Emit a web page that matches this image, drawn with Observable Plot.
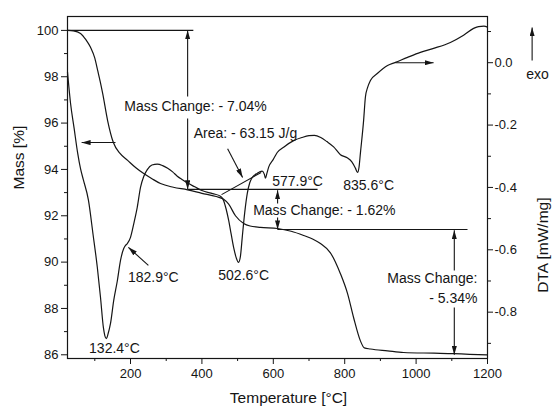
<!DOCTYPE html>
<html><head><meta charset="utf-8">
<script src="https://cdn.jsdelivr.net/npm/d3@7"></script>
<script src="https://cdn.jsdelivr.net/npm/@observablehq/plot@0.6"></script>
<style>body{margin:0;background:#fff} svg{display:block}</style>
</head><body><div id="chart"></div>
<script>
// ---- TG (mass) curve ----
const tgTemp = [23.5, 40, 60, 75, 88, 100, 108, 115, 122, 136, 152, 170, 192, 215, 236, 260, 284, 320, 360, 400, 440, 460, 475, 494, 517, 535, 564, 612, 650, 685, 710, 732, 760, 788, 808, 825, 844, 855, 872, 920, 965, 1050, 1105, 1150, 1200];
const tgMass = [100, 99.98, 99.87, 99.6, 99.27, 98.8, 98.27, 97.8, 97.28, 96.1, 95.16, 94.7, 94.39, 94.07, 93.83, 93.6, 93.39, 93.23, 93.12, 92.97, 92.83, 92.72, 92.5, 92.0, 91.67, 91.56, 91.5, 91.45, 91.33, 91.15, 91.0, 90.8, 90.4, 89.5, 88.64, 87.6, 86.6, 86.3, 86.25, 86.17, 86.1, 86.07, 86.05, 86.02, 86.0];

// ---- DTA curve ----
const dtaTemp = [23.5, 32, 42, 52, 60, 68, 82, 95, 107, 116, 124, 128, 132.4, 137, 144, 153, 163, 172, 181, 186, 191, 200, 210, 219, 228, 237, 247, 260, 275, 290, 303, 318, 331, 345, 360, 380, 400, 430, 452, 460, 468, 475, 482, 489, 496, 502.6, 508, 513, 520, 527, 534, 541, 548, 555, 562, 569, 575, 578, 582, 587, 600, 611, 630, 657, 680, 700, 715, 733, 750, 769, 788, 807, 820, 830, 836, 840, 844, 853, 858, 864, 872, 892, 920, 942, 976, 1012, 1049, 1096, 1133, 1161, 1175, 1190, 1200];
const dtaValue = [-0.03, -0.13, -0.21, -0.29, -0.34, -0.376, -0.44, -0.55, -0.656, -0.753, -0.849, -0.875, -0.885, -0.87, -0.836, -0.762, -0.70, -0.634, -0.596, -0.586, -0.58, -0.56, -0.512, -0.463, -0.40, -0.365, -0.343, -0.328, -0.325, -0.33, -0.338, -0.35, -0.364, -0.375, -0.386, -0.398, -0.41, -0.42, -0.428, -0.44, -0.47, -0.506, -0.55, -0.593, -0.625, -0.64, -0.62, -0.56, -0.48, -0.42, -0.385, -0.368, -0.36, -0.355, -0.35, -0.348, -0.358, -0.37, -0.355, -0.335, -0.31, -0.288, -0.27, -0.25, -0.24, -0.234, -0.233, -0.24, -0.253, -0.27, -0.295, -0.305, -0.318, -0.338, -0.352, -0.336, -0.29, -0.185, -0.11, -0.08, -0.057, -0.034, -0.009, 0.001, 0.017, 0.033, 0.046, 0.065, 0.088, 0.11, 0.116, 0.117, 0.114];

// ---- axes ----
const tempTicks = [200, 400, 600, 800, 1000, 1200];
const tempMinorTicks = [100, 300, 500, 700, 900, 1100];
const massTicks = [86, 88, 90, 92, 94, 96, 98, 100];
const massMinorTicks = [87, 89, 91, 93, 95, 97, 99];
const dtaTicks = [0.0, -0.2, -0.4, -0.6, -0.8];
const dtaTickLabels = ["0.0", "-0.2", "-0.4", "-0.6", "-0.8"];
const dtaMinorTicks = [0.1, -0.1, -0.3, -0.5, -0.7, -0.9];

// ---- mass-change annotations (mass units) ----
const refLineX1 = [23.5, 360, 612];
const refLineX2 = [376, 724, 1144];
const refLineY = [100, 93.14, 91.41];
const massArrowX1 = [360, 360, 612, 612, 1107, 1107, 158];
const massArrowY1 = [97.15, 96.2, 92.53, 91.93, 89.64, 88.04, 95.16];
const massArrowX2 = [360, 360, 612, 612, 1107, 1107, 63];
const massArrowY2 = [100, 93.14, 93.1, 91.41, 91.37, 86.0, 95.16];
const massLabelText = ["Mass Change: - 7.04%", "Mass Change: - 1.62%", "Mass Change:", "- 5.34%"];
const massLabelX = [382, 743, 1172, 1172];
const massLabelY = [96.72, 92.23, 89.29, 88.43];
const massLabelAnchor = ["middle", "middle", "end", "end"];

// ---- DTA annotations (DTA units) ----
const dtaArrowX1 = [942, 1325, 472, 250];
const dtaArrowY1 = [0.0, 0.007, -0.276, -0.650];
const dtaArrowX2 = [1049, 1325, 514, 194];
const dtaArrowY2 = [0.0, 0.113, -0.368, -0.592];
const baselineX = [455, 566];
const baselineY = [-0.423, -0.352];
const dtaLabelText = ["132.4°C", "182.9°C", "502.6°C", "577.9°C", "835.6°C", "Area: - 63.15 J/g", "exo"];
const dtaLabelX = [155, 264, 517, 668, 867, 522, 1340];
const dtaLabelY = [-0.917, -0.689, -0.682, -0.381, -0.394, -0.227, -0.038];

// DTA values are drawn on the mass scale through this linear mapping
const toMass = d => 98.606 + 13.458 * d;

const tg = tgTemp.map((t, i) => ({t, v: tgMass[i]}));
const dta = dtaTemp.map((t, i) => ({t, v: toMass(dtaValue[i])}));
const refLines = refLineY.map((y, i) => ({x1: refLineX1[i], x2: refLineX2[i], y}));
const arrows = [
  ...massArrowX1.map((x, i) => ({x1: x, y1: massArrowY1[i], x2: massArrowX2[i], y2: massArrowY2[i]})),
  ...dtaArrowX1.map((x, i) => ({x1: x, y1: toMass(dtaArrowY1[i]), x2: dtaArrowX2[i], y2: toMass(dtaArrowY2[i])}))
];
const baseline = [{x1: baselineX[0], y1: toMass(baselineY[0]), x2: baselineX[1], y2: toMass(baselineY[1])}];
const massLabels = massLabelText.map((s, i) => ({s, x: massLabelX[i], y: massLabelY[i], a: massLabelAnchor[i]}));
const dtaLabels = dtaLabelText.map((s, i) => ({s, x: dtaLabelX[i], y: toMass(dtaLabelY[i])}));

const INK = "#151515";
const FONT = "'Liberation Sans', Arial, sans-serif";

function filledArrow(color) {
  const m = d3.create("svg:marker")
    .attr("viewBox", "-9 -2.6 9 5.2")
    .attr("markerWidth", 9).attr("markerHeight", 5.2)
    .attr("markerUnits", "userSpaceOnUse")
    .attr("orient", "auto")
    .attr("refX", 0).attr("refY", 0)
    .attr("fill", color).attr("stroke", "none");
  m.append("path").attr("d", "M-9,-2.6L0,0L-9,2.6Z");
  return m.node();
}

function makePlot(marker) {
  return Plot.plot({
    width: 552, height: 410,
    marginLeft: 67, marginRight: 65, marginTop: 16, marginBottom: 52,
    style: {fontFamily: FONT, fontSize: "13px", color: INK, background: "#fff"},
    x: {domain: [23.5, 1200]},
    y: {domain: [85.84, 100.6]},
    marks: [
      Plot.axisX(tempTicks, {tickSize: 6, tickPadding: 4, fontSize: 13, label: null, stroke: INK, tickFormat: d => String(d)}),
      Plot.axisX(tempMinorTicks, {tickSize: 3, tickFormat: () => "", label: null, stroke: INK}),
      Plot.axisY(massTicks, {anchor: "left", tickSize: 6, tickPadding: 3, fontSize: 13, label: null, stroke: INK, tickFormat: d => String(d)}),
      Plot.axisY(massMinorTicks, {anchor: "left", tickSize: 3, tickFormat: () => "", label: null, stroke: INK}),
      Plot.axisY(dtaTicks.map(toMass), {anchor: "right", tickSize: 5, tickPadding: 2, fontSize: 13, label: null, stroke: INK,
        tickFormat: m => dtaTickLabels[dtaTicks.findIndex(d => Math.abs(toMass(d) - m) < 1e-6)]}),
      Plot.axisY(dtaMinorTicks.map(toMass), {anchor: "right", tickSize: 3, tickFormat: () => "", label: null, stroke: INK}),
      Plot.frame({stroke: INK, strokeWidth: 1.2}),
      Plot.line(tg, {x: "t", y: "v", stroke: INK, strokeWidth: 1.2, curve: "monotone-x"}),
      Plot.line(dta, {x: "t", y: "v", stroke: INK, strokeWidth: 1.2, curve: "monotone-x"}),
      Plot.link(refLines, {x1: "x1", x2: "x2", y1: "y", y2: "y", stroke: INK, strokeWidth: 1.1}),
      Plot.link(baseline, {x1: "x1", x2: "x2", y1: "y1", y2: "y2", stroke: INK, strokeWidth: 1.1}),
      Plot.link(arrows, {x1: "x1", y1: "y1", x2: "x2", y2: "y2", stroke: INK, strokeWidth: 1.1, markerEnd: marker}),
      Plot.text(massLabels.filter(d => d.a === "middle"), {x: "x", y: "y", text: "s", textAnchor: "middle", fontSize: 14, fill: INK}),
      Plot.text(massLabels.filter(d => d.a === "end"), {x: "x", y: "y", text: "s", textAnchor: "end", fontSize: 14, fill: INK}),
      Plot.text(dtaLabels, {x: "x", y: "y", text: "s", fontSize: 14, fill: INK}),
      Plot.text(["Temperature [°C]"], {frameAnchor: "bottom", text: d => d, dx: 11, dy: 44, fontSize: 15.5, fill: INK}),
      Plot.text(["Mass [%]"], {frameAnchor: "left", text: d => d, dx: -48, dy: 2, rotate: -90, fontSize: 15.5, fill: INK}),
      Plot.text(["DTA [mW/mg]"], {frameAnchor: "right", text: d => d, dx: 56, dy: 10, rotate: -90, fontSize: 15.5, fill: INK})
    ]
  });
}

let chart;
try { chart = makePlot(filledArrow); } catch (e) { chart = makePlot("arrow"); }
document.getElementById("chart").append(chart);
</script></body></html>
